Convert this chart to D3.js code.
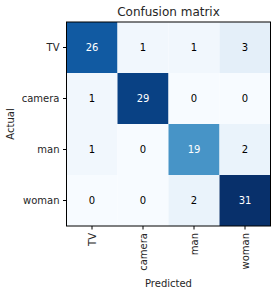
<!DOCTYPE html>
<html>
<head>
<meta charset="utf-8">
<script src="https://cdn.jsdelivr.net/npm/d3@7"></script>
<style>
body{margin:0;background:#fff;}
text{font-family:"DejaVu Sans",sans-serif;fill:#262626;}
</style>
</head>
<body>
<svg id="chart" width="278" height="294"></svg>
<script>
var classes=["TV","camera","man","woman"];
var matrix=[
	[26,1,1,3],
	[1,29,0,0],
	[1,0,19,2],
	[0,0,2,31]
];

var svg=d3.select("#chart");
var mLeft=66.5,mTop=22,size=204;

var x=d3.scaleBand().domain(classes).range([mLeft,mLeft+size]);
var y=d3.scaleBand().domain(classes).range([mTop,mTop+size]);
var maxVal=d3.max(matrix,function(r){return d3.max(r);});
var color=d3.scaleSequential(d3.interpolateBlues).domain([0,maxVal]);

var cells=[];
matrix.forEach(function(row,i){
	row.forEach(function(v,j){
		cells.push({r:classes[i],c:classes[j],v:v});
	});
});

svg.selectAll("rect.cell")
	.data(cells)
	.enter()
	.append("rect")
	.attr("class","cell")
	.attr("x",function(d){return x(d.c);})
	.attr("y",function(d){return y(d.r);})
	.attr("width",x.bandwidth())
	.attr("height",y.bandwidth())
	.attr("fill",function(d){return color(d.v);});

svg.selectAll("text.val")
	.data(cells)
	.enter()
	.append("text")
	.attr("class","val")
	.attr("x",function(d){return x(d.c)+x.bandwidth()/2;})
	.attr("y",function(d){return y(d.r)+y.bandwidth()/2;})
	.attr("text-anchor","middle")
	.attr("dy","0.35em")
	.style("font-size","10px")
	.style("fill",function(d){return d.v>maxVal/2?"#fff":"#000";})
	.text(function(d){return d.v;});

// frame
svg.append("rect")
	.attr("x",mLeft).attr("y",mTop)
	.attr("width",size).attr("height",size)
	.attr("fill","none").attr("stroke","#000").attr("stroke-width",1);

var xAxis=svg.append("g")
	.attr("transform","translate(0,"+(mTop+size)+")")
	.call(d3.axisBottom(x).tickSize(3.5).tickPadding(3.5));
xAxis.select(".domain").remove();
xAxis.selectAll("text")
	.style("font-size","10px")
	.attr("text-anchor","end")
	.attr("transform","rotate(-90)")
	.attr("x",-7).attr("y",0).attr("dy","0.35em");

var yAxis=svg.append("g")
	.attr("transform","translate("+mLeft+",0)")
	.call(d3.axisLeft(y).tickSize(3.5).tickPadding(3.5));
yAxis.select(".domain").remove();
yAxis.selectAll("text").style("font-size","10px");
svg.selectAll(".tick line").attr("stroke","#000");
svg.selectAll(".tick text").style("fill","#262626").attr("font-family",null);

svg.append("text")
	.attr("x",mLeft+size/2).attr("y",mTop-6)
	.attr("text-anchor","middle")
	.style("font-size","12px")
	.text("Confusion matrix");

svg.append("text")
	.attr("x",mLeft+size/2).attr("y",287)
	.attr("text-anchor","middle")
	.style("font-size","10px")
	.text("Predicted");

svg.append("text")
	.attr("transform","translate(14,"+(mTop+size/2)+") rotate(-90)")
	.attr("text-anchor","middle")
	.style("font-size","10px")
	.text("Actual");
</script>
</body>
</html>
